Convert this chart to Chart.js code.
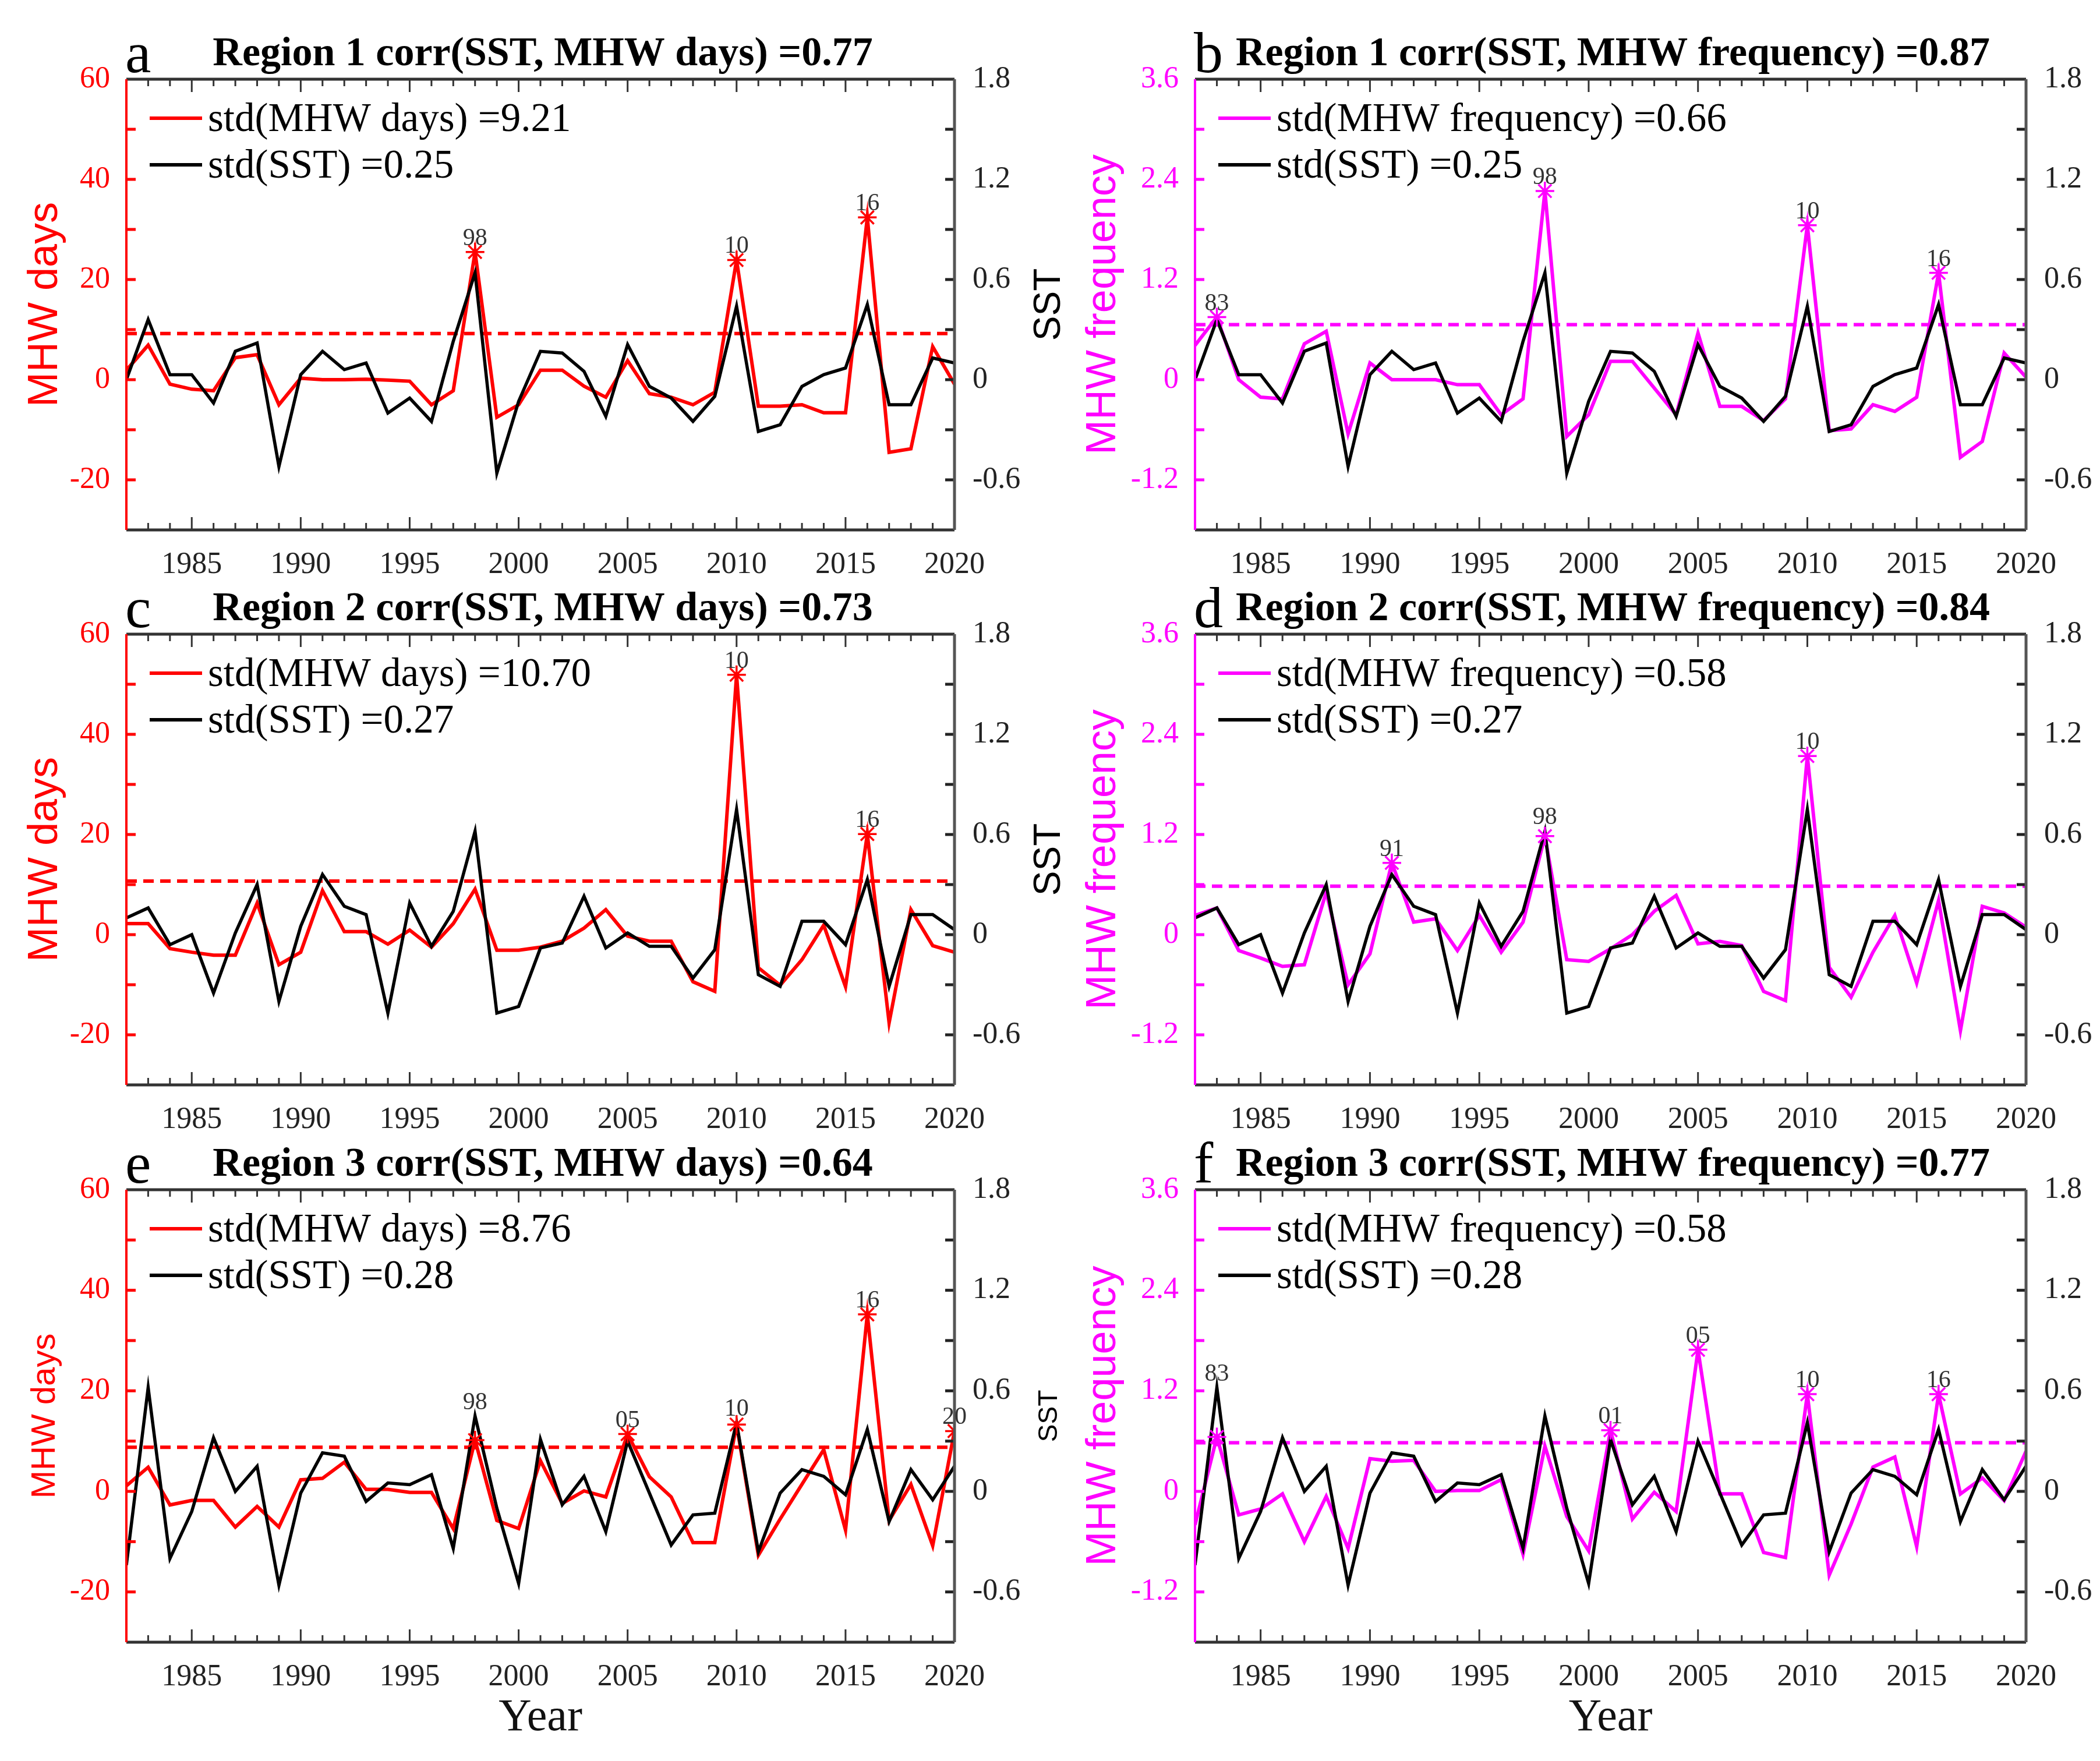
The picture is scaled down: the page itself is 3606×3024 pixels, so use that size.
<!DOCTYPE html>
<html>
<head>
<meta charset="utf-8">
<script src="https://cdn.jsdelivr.net/npm/chart.js@4.4.1/dist/chart.umd.min.js"></script>
<style>
body { margin: 0; background: #fff; }
#wrap { position: relative; width: 3606px; height: 3024px; background: #fff; }
#wrap canvas { position: absolute; }
</style>
</head>
<body>
<div id="wrap"></div>
<script>
// ---- data ----
var years = [1982,1983,1984,1985,1986,1987,1988,1989,1990,1991,1992,1993,1994,1995,1996,1997,1998,1999,2000,
             2001,2002,2003,2004,2005,2006,2007,2008,2009,2010,2011,2012,2013,2014,2015,2016,2017,2018,2019,2020];

var r1Days = [1.9,6.9,-0.9,-1.9,-2.2,4.4,5.0,-5.0,0.3,0.0,0.0,0.1,-0.1,-0.3,-5.0,-2.2,25.5,-7.5,-5.0,
              1.9,1.9,-1.3,-3.5,3.8,-2.8,-3.5,-5.0,-2.5,23.9,-5.3,-5.3,-5.0,-6.6,-6.6,32.4,-14.5,-13.8,6.6,-0.9];
var r1Freq = [0.41,0.75,0.0,-0.21,-0.23,0.43,0.58,-0.65,0.2,0.0,0.0,0.0,-0.06,-0.06,-0.42,-0.23,2.26,-0.68,-0.42,
              0.22,0.22,-0.1,-0.42,0.56,-0.32,-0.32,-0.49,-0.23,1.85,-0.61,-0.59,-0.3,-0.38,-0.21,1.28,-0.93,-0.74,0.32,0.03];
var r1Sst  = [0.0,0.36,0.03,0.03,-0.14,0.17,0.22,-0.52,0.03,0.17,0.06,0.10,-0.20,-0.11,-0.25,0.23,0.64,-0.56,-0.13,
              0.17,0.16,0.05,-0.22,0.21,-0.04,-0.11,-0.25,-0.10,0.44,-0.31,-0.27,-0.04,0.03,0.07,0.45,-0.15,-0.15,0.13,0.10];

var r2Days = [2.2,2.2,-2.8,-3.5,-4.1,-4.1,6.3,-6.0,-3.5,8.8,0.6,0.6,-1.9,0.9,-2.5,2.2,9.1,-3.1,-3.1,
              -2.5,-1.3,1.3,5.0,-0.3,-1.3,-1.3,-9.4,-11.3,51.9,-6.6,-10.1,-5.0,1.9,-10.4,20.1,-17.6,5.0,-2.2,-3.5];
var r2Freq = [0.23,0.32,-0.19,-0.28,-0.38,-0.36,0.51,-0.6,-0.23,0.86,0.15,0.19,-0.19,0.23,-0.21,0.15,1.18,-0.3,-0.32,
              -0.17,0.0,0.28,0.47,-0.11,-0.08,-0.13,-0.68,-0.79,2.14,-0.39,-0.75,-0.21,0.23,-0.58,0.41,-1.15,0.34,0.26,0.09];
var r2Sst  = [0.10,0.16,-0.06,0.0,-0.35,0.01,0.30,-0.40,0.05,0.36,0.17,0.12,-0.47,0.19,-0.07,0.14,0.62,-0.47,-0.43,
              -0.08,-0.05,0.23,-0.08,0.01,-0.07,-0.07,-0.26,-0.09,0.75,-0.24,-0.31,0.08,0.08,-0.06,0.33,-0.31,0.12,0.12,0.03];

var r3Days = [1.1,4.8,-2.7,-1.8,-1.8,-7.1,-3.0,-7.1,2.3,2.6,5.8,0.4,0.4,-0.2,-0.2,-7.4,10.2,-5.8,-7.4,
              6.1,-2.4,0.1,-1.1,11.4,2.9,-1.1,-10.2,-10.2,13.3,-12.7,-5.5,1.4,8.3,-7.7,35.2,-5.8,1.4,-10.8,12.0];
var r3Freq = [-0.4,0.65,-0.28,-0.21,-0.03,-0.6,-0.06,-0.68,0.39,0.36,0.37,0.0,0.01,0.01,0.14,-0.75,0.54,-0.3,-0.71,
              0.73,-0.33,-0.01,-0.24,1.69,-0.03,-0.03,-0.73,-0.79,1.16,-1.0,-0.39,0.29,0.41,-0.66,1.16,-0.03,0.16,-0.11,0.48];
var r3Sst  = [-0.44,0.62,-0.40,-0.12,0.32,0.0,0.15,-0.56,-0.01,0.23,0.21,-0.06,0.05,0.04,0.10,-0.34,0.45,-0.10,-0.55,
              0.31,-0.08,0.09,-0.24,0.30,-0.01,-0.32,-0.14,-0.13,0.41,-0.36,-0.01,0.13,0.09,-0.02,0.37,-0.18,0.13,-0.05,0.15];

var stdDays  = [9.21, 10.70, 8.76];
var stdFreq  = [0.66, 0.58, 0.58];
var stdSst   = [0.25, 0.27, 0.28];
var corrDays = [0.77, 0.73, 0.64];
var corrFreq = [0.87, 0.84, 0.77];

var xTickYears = [1985,1990,1995,2000,2005,2010,2015,2020];
var daysTicks = [-20,0,20,40,60];
var daysMarks = [-20,-10,0,10,20,30,40,50];
var freqTicks = [-1.2,0,1.2,2.4,3.6];
var freqMarks = [-1.2,-0.6,0,0.6,1.2,1.8,2.4,3.0];
var sstTicks  = [-0.6,0,0.6,1.2,1.8];
var sstMarks  = [-0.6,-0.3,0,0.3,0.6,0.9,1.2,1.5];

var daysByRegion = [r1Days, r2Days, r3Days];
var freqByRegion = [r1Freq, r2Freq, r3Freq];
var sstByRegion  = [r1Sst, r2Sst, r3Sst];

var RED = '#ff0000', MAG = '#ff00ff';
var SERIF = '"Liberation Serif", "Times New Roman", serif';
var SANS = '"Liberation Sans", Arial, sans-serif';

// canvas placement (page pixels)
var cols = [{x: 0, w: 1850, L: 217, R: 211}, {x: 1850, w: 1756, L: 202, R: 127}];
var rows = [{y: 0, h: 1000, T: 136, B: 90}, {y: 1000, h: 950, T: 89, B: 87}, {y: 1950, h: 1074, T: 93, B: 204}];

var letters = [['a','b'],['c','d'],['e','f']];

function fmt1(v){ var r = Math.round(v * 10) / 10; return r === 0 ? '0' : String(r); }

// draws frame, inner ticks, titles, legend, star labels
var decor = {
  id: 'decor',
  afterDraw: function(chart, args, o) {
    var ctx = chart.ctx, ca = chart.chartArea;
    var xs = chart.scales.x, yl = chart.scales.y, yr = chart.scales.y1;
    ctx.save();

    // x ticks, top and bottom, pointing inwards
    ctx.strokeStyle = '#333';
    ctx.lineWidth = 3;
    years.forEach(function(y){
      var px = xs.getPixelForValue(y);
      var len = (y % 5 === 0) ? 22 : 12;
      ctx.beginPath();
      ctx.moveTo(px, ca.bottom); ctx.lineTo(px, ca.bottom - len);
      ctx.moveTo(px, ca.top); ctx.lineTo(px, ca.top + len);
      ctx.stroke();
    });

    // y ticks
    ctx.lineWidth = 5;
    ctx.strokeStyle = o.color;
    o.leftMarks.forEach(function(v){
      var py = yl.getPixelForValue(v);
      ctx.beginPath(); ctx.moveTo(ca.left, py); ctx.lineTo(ca.left + 16, py); ctx.stroke();
    });
    ctx.strokeStyle = '#222';
    sstMarks.forEach(function(v){
      var py = yr.getPixelForValue(v);
      ctx.beginPath(); ctx.moveTo(ca.right, py); ctx.lineTo(ca.right - 16, py); ctx.stroke();
    });

    // frame
    ctx.lineWidth = 5;
    ctx.strokeStyle = '#333';
    ctx.beginPath();
    ctx.moveTo(ca.left, ca.top); ctx.lineTo(ca.right, ca.top);
    ctx.moveTo(ca.left, ca.bottom); ctx.lineTo(ca.right, ca.bottom);
    ctx.stroke();
    ctx.strokeStyle = '#555';
    ctx.beginPath(); ctx.moveTo(ca.right, ca.top); ctx.lineTo(ca.right, ca.bottom); ctx.stroke();
    ctx.lineWidth = 4;
    ctx.strokeStyle = o.color;
    ctx.beginPath(); ctx.moveTo(ca.left, ca.top); ctx.lineTo(ca.left, ca.bottom); ctx.stroke();

    // star labels
    var meta = chart.getDatasetMeta(0);
    ctx.fillStyle = '#333';
    ctx.font = '42px ' + SERIF;
    ctx.textAlign = 'center';
    ctx.textBaseline = 'alphabetic';
    meta.data.forEach(function(pt, i){
      var d = chart.data.datasets[0].data[i];
      var sy = yr.getPixelForValue(o.sst[years.indexOf(d.x)]);
      var top = Math.min(pt.y, sy);
      ctx.fillText(String(d.x).slice(2), pt.x, top - 12);
    });

    // panel letter and title
    ctx.fillStyle = '#000';
    ctx.textAlign = 'left';
    ctx.font = '100px ' + SERIF;
    ctx.fillText(o.letter, ca.left - 2, ca.top - 12);
    ctx.textAlign = 'center';
    ctx.font = 'bold 70px ' + SERIF;
    ctx.fillText(o.title, (ca.left + ca.right) / 2 + 4, ca.top - 24);

    // legend
    var ly = [ca.top + 67, ca.top + 147];
    var lc = [o.color, '#000'];
    var lt = [o.legend1, o.legend2];
    ctx.font = '69px ' + SERIF;
    ctx.textAlign = 'left';
    ctx.textBaseline = 'middle';
    for (var k = 0; k < 2; k++) {
      ctx.strokeStyle = lc[k];
      ctx.lineWidth = 6;
      ctx.beginPath(); ctx.moveTo(ca.left + 40, ly[k]); ctx.lineTo(ca.left + 130, ly[k]); ctx.stroke();
      ctx.fillStyle = '#000';
      ctx.fillText(lt[k], ca.left + 140, ly[k] + 4);
    }

    // axis titles
    var cy = (ca.top + ca.bottom) / 2;
    ctx.textAlign = 'center';
    ctx.save();
    ctx.translate(ca.left + o.leftTitleDx, cy);
    ctx.rotate(-Math.PI / 2);
    ctx.fillStyle = o.color;
    ctx.font = o.leftTitleSize + 'px ' + SANS;
    ctx.fillText(o.leftTitle, 0, 0);
    ctx.restore();
    if (o.rightTitle) {
      ctx.save();
      ctx.translate(ca.right + 163, cy);
      ctx.rotate(-Math.PI / 2);
      ctx.fillStyle = '#000';
      ctx.font = o.rightTitleSize + 'px ' + SANS;
      ctx.fillText(o.rightTitle, 0, 0);
      ctx.restore();
    }
    if (o.xTitle) {
      ctx.fillStyle = '#111';
      ctx.font = '78px ' + SERIF;
      ctx.fillText(o.xTitle, (ca.left + ca.right) / 2, ca.bottom + 131);
    }
    ctx.restore();
  }
};

function pts(vals){ return years.map(function(y, i){ return {x: y, y: vals[i]}; }); }

function makePanel(r, c) {
  var col = cols[c], row = rows[r];
  var isDays = (c === 0);
  var vals = isDays ? daysByRegion[r] : freqByRegion[r];
  var sst = sstByRegion[r];
  var std = isDays ? stdDays[r] : stdFreq[r];
  var color = isDays ? RED : MAG;
  var name = isDays ? 'MHW days' : 'MHW frequency';
  var stars = [];
  years.forEach(function(y, i){ if (vals[i] > std) stars.push({x: y, y: vals[i]}); });

  var cv = document.createElement('canvas');
  cv.width = col.w; cv.height = row.h;
  cv.style.left = col.x + 'px'; cv.style.top = row.y + 'px';
  cv.style.width = col.w + 'px'; cv.style.height = row.h + 'px';
  document.getElementById('wrap').appendChild(cv);

  var tickFont = {family: SERIF, size: 52};
  new Chart(cv, {
    type: 'line',
    data: {
      datasets: [
        {label: 'peaks', data: stars, showLine: false, pointStyle: 'star', pointRadius: 16,
         borderColor: color, backgroundColor: color, pointBorderWidth: 3.5, yAxisID: 'y', order: 0},
        {label: 'SST', data: pts(sst), yAxisID: 'y1', borderColor: '#000', borderWidth: 5.5,
         pointRadius: 0, tension: 0, order: 1},
        {label: name, data: pts(vals), yAxisID: 'y', borderColor: color, borderWidth: 6,
         pointRadius: 0, tension: 0, order: 2},
        {label: 'std', data: [{x: 1982, y: std}, {x: 2020, y: std}], yAxisID: 'y', borderColor: color,
         borderWidth: 6, borderDash: [18, 11], pointRadius: 0, order: 3}
      ]
    },
    options: {
      responsive: false,
      animation: false,
      devicePixelRatio: 1,
      events: [],
      layout: {padding: {top: row.T, left: 0, right: 0, bottom: 0}},
      plugins: {
        legend: {display: false},
        tooltip: {enabled: false},
        decor: {
          color: color,
          letter: letters[r][c],
          title: 'Region ' + (r + 1) + ' corr(SST, ' + name + ') =' + (isDays ? corrDays[r] : corrFreq[r]).toFixed(2),
          legend1: 'std(' + name + ') =' + std.toFixed(2),
          legend2: 'std(SST) =' + stdSst[r].toFixed(2),
          leftTitle: name,
          leftTitleSize: (isDays && r === 2) ? 58 : 72,
          leftTitleDx: isDays ? -139 : -157,
          rightTitle: isDays ? 'SST' : null,
          rightTitleSize: r === 2 ? 46 : 64,
          leftMarks: isDays ? daysMarks : freqMarks,
          sst: sst,
          xTitle: r === 2 ? 'Year' : null
        }
      },
      scales: {
        x: {
          type: 'linear', min: 1982, max: 2020,
          grid: {display: false}, border: {display: false},
          afterBuildTicks: function(s){ s.ticks = xTickYears.map(function(v){ return {value: v}; }); },
          afterFit: function(s){ s.height = row.B; },
          ticks: {autoSkip: false, maxRotation: 0, padding: 21, color: '#222', font: tickFont,
                  callback: function(v){ return String(v); }}
        },
        y: {
          position: 'left',
          min: isDays ? -30 : -1.8, max: isDays ? 60 : 3.6,
          grid: {display: false}, border: {display: false},
          afterBuildTicks: function(s){
            var t = isDays ? daysTicks : freqTicks;
            s.ticks = t.map(function(v){ return {value: v}; });
          },
          afterFit: function(s){ s.width = col.L; },
          ticks: {padding: 20, color: color, font: tickFont, callback: function(v){ return fmt1(v); }}
        },
        y1: {
          position: 'right',
          min: -0.9, max: 1.8,
          grid: {display: false}, border: {display: false},
          afterBuildTicks: function(s){ s.ticks = sstTicks.map(function(v){ return {value: v}; }); },
          afterFit: function(s){ s.width = col.R; },
          ticks: {padding: 23, color: '#222', font: tickFont, callback: function(v){ return fmt1(v); }}
        }
      }
    },
    plugins: [decor]
  });
}

for (var r = 0; r < 3; r++) {
  for (var c = 0; c < 2; c++) makePanel(r, c);
}
</script>
</body>
</html>
